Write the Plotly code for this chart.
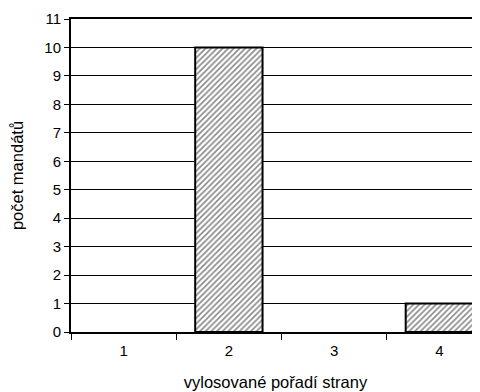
import plotly.graph_objects as go

categories = ["1", "2", "3", "4"]
values = [0, 10, 0, 1]
y_ticks = list(range(0, 12))

line_widths = [0 if v == 0 else 2 for v in values]

fig = go.Figure()
fig.add_trace(go.Bar(
    x=categories, y=values, width=0.64,
    marker=dict(
        color="white",
        line=dict(color="black", width=line_widths),
        pattern=dict(shape="/", size=4, solidity=0.4, fgcolor="#111111", bgcolor="white"),
    ),
    showlegend=False,
))

tick_font = dict(family="Liberation Sans, Arial, sans-serif", size=15, color="black")
title_font = dict(family="Liberation Sans, Arial, sans-serif", size=16.5, color="black")
fig.update_layout(
    width=472, height=384,
    margin=dict(l=63, r=0, t=11, b=60),
    plot_bgcolor="white", paper_bgcolor="white",
    font=tick_font,
    xaxis=dict(
        type="category", range=[-0.5, 3.386], automargin=False,
        tickson="boundaries", ticks="outside", ticklen=6, tickcolor="black", tickwidth=1,
        showline=True, linecolor="black", linewidth=2, mirror=True,
        showgrid=False, zeroline=False, tickfont=tick_font, ticklabelstandoff=4,
        title=dict(text="vylosované pořadí strany", font=title_font, standoff=18),
    ),
    yaxis=dict(
        range=[0, 11], tickvals=y_ticks, ticks="outside", ticklen=5, tickcolor="black",
        showline=True, linecolor="black", linewidth=2, mirror=False, automargin=False,
        showgrid=True, gridcolor="black", gridwidth=1, zeroline=False, tickfont=tick_font,
        title=dict(text="počet mandátů", font=title_font, standoff=24),
    ),
)
fig.write_html("out.html")
